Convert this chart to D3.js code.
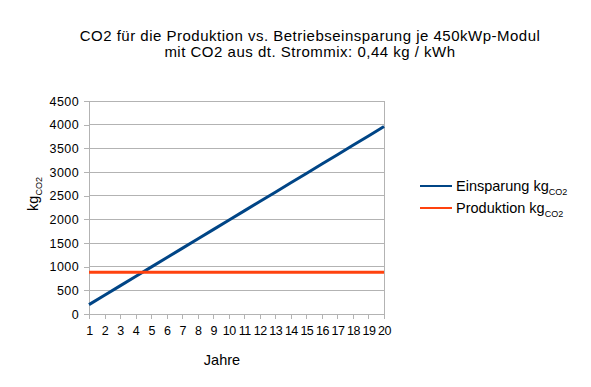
<!DOCTYPE html>
<html><head><meta charset="utf-8">
<script src="https://cdn.jsdelivr.net/npm/d3@7"></script>
<style>body{margin:0;background:#fff}svg{display:block;font-family:"Liberation Sans",Arial,sans-serif}</style>
</head><body>
<svg id="c" width="591" height="387"></svg>
<script>
const years = d3.range(1, 21);
const einsparung = [198,396,594,792,990,1188,1386,1584,1782,1980,2178,2376,2574,2772,2970,3168,3366,3564,3762,3960];
const produktion = [880,880,880,880,880,880,880,880,880,880,880,880,880,880,880,880,880,880,880,880];
const yTicks = [0,500,1000,1500,2000,2500,3000,3500,4000,4500];
const titleLines = ["CO2 für die Produktion vs. Betriebseinsparung je 450kWp-Modul","mit CO2 aus dt. Strommix: 0,44 kg / kWh"];
const seriesNames = ["Einsparung kg","Produktion kg"];
const colors = ["#004586","#ff420e"];

const svg = d3.select("#c");
const L=89, R=384, T=101, B=314;
const x = d3.scaleLinear().domain([1,20]).range([L,R]);
const y = d3.scaleLinear().domain([0,4500]).range([B,T]);

// grid
svg.append("g").selectAll("line").data(yTicks).join("line")
  .attr("x1",L).attr("x2",R).attr("y1",d=>y(d)).attr("y2",d=>y(d))
  .attr("stroke","#b3b3b3").attr("stroke-width",1).attr("shape-rendering","crispEdges");
svg.append("line").attr("x1",R).attr("x2",R).attr("y1",T).attr("y2",B)
  .attr("stroke","#b3b3b3").attr("shape-rendering","crispEdges");

// axes
const yAx = svg.append("g").attr("transform",`translate(${L},0)`)
  .call(d3.axisLeft(y).tickValues(yTicks).tickSize(5).tickPadding(5).tickFormat(d3.format("d")));
const xAx = svg.append("g").attr("transform",`translate(0,${B})`)
  .call(d3.axisBottom(x).tickValues(years).tickSize(5).tickPadding(7).tickFormat(d3.format("d")));
[yAx,xAx].forEach(a=>{
  a.select(".domain").attr("stroke","#b3b3b3").attr("shape-rendering","crispEdges");
  a.selectAll(".tick line").attr("stroke","#b3b3b3").attr("shape-rendering","crispEdges");
  a.selectAll("text").attr("fill","#000").style("font-size","12.5px").style("font-family","'Liberation Sans',Arial,sans-serif");
});
yAx.selectAll("text").attr("letter-spacing","0.4");
xAx.selectAll("text").attr("letter-spacing","-0.5");

// lines
const line = d3.line().x((d,i)=>x(years[i])).y(d=>y(d));
[einsparung,produktion].forEach((s,i)=>{
  svg.append("path").datum(s).attr("d",line).attr("fill","none")
    .attr("stroke",colors[i]).attr("stroke-width",3);
});

// title
svg.append("g").selectAll("text").data(titleLines).join("text")
  .attr("x",310).attr("y",(d,i)=>41+i*16).attr("text-anchor","middle")
  .attr("letter-spacing","0.5")
  .style("font-size","15px").text(d=>d);

// axis titles
svg.append("text").attr("x",222).attr("y",365).attr("text-anchor","middle").style("font-size","14.5px").text("Jahre");
const yl = svg.append("text").attr("transform","translate(38,194) rotate(-90)").attr("text-anchor","middle").style("font-size","14.5px");
yl.append("tspan").text("kg");
yl.append("tspan").attr("dy",4).style("font-size","9px").text("CO2");

// legend
seriesNames.forEach((n,i)=>{
  const ly = 186 + i*22;
  svg.append("line").attr("x1",420).attr("x2",452).attr("y1",ly).attr("y2",ly).attr("stroke",colors[i]).attr("stroke-width",2);
  const t = svg.append("text").attr("x",456).attr("y",ly+5).style("font-size","14.5px");
  t.append("tspan").text(n);
  t.append("tspan").attr("dy",4).style("font-size","9px").text("CO2");
});
</script>
</body></html>
